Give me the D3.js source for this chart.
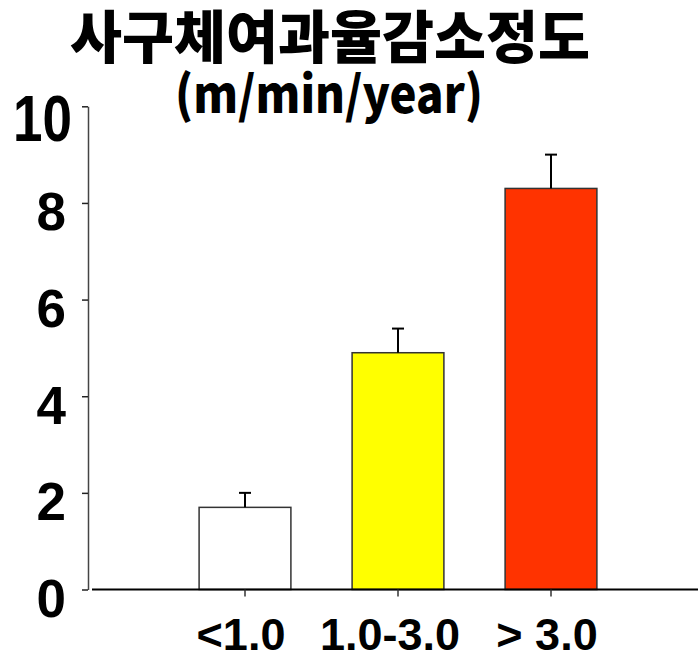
<!DOCTYPE html>
<html><head><meta charset="utf-8">
<script src="https://cdn.jsdelivr.net/npm/d3@7/dist/d3.min.js"></script>
<style>html,body{margin:0;padding:0;background:#fff;}</style>
</head><body>
<svg id="c" width="698" height="661"></svg>
<script>
const categories = ["<1.0", "1.0-3.0", "> 3.0"];
const values = [1.7, 4.9, 8.3];
const errorTops = [2.0, 5.4, 9.0];
const barColors = ["#FFFFFF", "#FFFF00", "#FF3300"];
const yTicks = [0, 2, 4, 6, 8, 10];
const titleLine1 = "사구체여과율감소정도";
const titleLine2 = "(m/min/year)";

const svg = d3.select("#c");
const plotLeft = 92, plotRight = 704, yAxisX = 88;
const yTop = 106.3, yBottom = 589.5;

const y = d3.scaleLinear().domain([0, 10]).range([yBottom, yTop]);
const step = (plotRight - plotLeft) / (categories.length + 1);
const x = d3.scaleBand().domain(categories)
  .range([plotLeft + step / 2, plotRight - step / 2])
  .paddingInner(0.4).paddingOuter(0.2);

// y axis
const yAxis = svg.append("g").attr("transform", `translate(${yAxisX},0)`)
  .call(d3.axisLeft(y).tickValues(yTicks).tickSize(6).tickSizeOuter(0).tickFormat(d3.format("d")));
yAxis.select(".domain").attr("stroke", "#444").attr("stroke-width", 1.5);
yAxis.selectAll(".tick line").attr("stroke", "#222").attr("stroke-width", 1.5);
yAxis.selectAll(".tick text")
  .attr("font-family", "'Liberation Sans', Arial, sans-serif")
  .attr("font-weight", "bold").attr("font-size", 53).attr("fill", "#000")
  .attr("text-anchor", "end").attr("x", -22).attr("dy", null).attr("y", 27)
  .each(function(d) {
    if (d === 10) {
      d3.select(this).attr("x", 0).attr("y", 0)
        .attr("transform", "translate(-16,34) scale(1,1.24)");
    }
  });

// bars
svg.append("g").selectAll("rect").data(values).join("rect")
  .attr("x", (d, i) => x(categories[i]))
  .attr("width", x.bandwidth())
  .attr("y", d => y(d))
  .attr("height", d => y(0) - y(d))
  .attr("fill", (d, i) => barColors[i])
  .attr("stroke", "#333").attr("stroke-width", 1.5);

// error bars
const eb = svg.append("g").attr("stroke", "#000").attr("stroke-width", 2);
eb.selectAll("line.v").data(values).join("line").attr("class", "v")
  .attr("x1", (d, i) => x(categories[i]) + x.bandwidth() / 2)
  .attr("x2", (d, i) => x(categories[i]) + x.bandwidth() / 2)
  .attr("y1", d => y(d)).attr("y2", (d, i) => y(errorTops[i]));
eb.selectAll("line.h").data(errorTops).join("line").attr("class", "h")
  .attr("x1", (d, i) => x(categories[i]) + x.bandwidth() / 2 - 6)
  .attr("x2", (d, i) => x(categories[i]) + x.bandwidth() / 2 + 6)
  .attr("y1", d => y(d)).attr("y2", d => y(d));

// x axis
const xAxis = svg.append("g").attr("transform", `translate(0,${y(0)})`)
  .call(d3.axisBottom(x).tickSize(7).tickSizeOuter(0));
xAxis.select(".domain").attr("d", `M${plotLeft},0H${plotRight}`)
  .attr("stroke", "#000").attr("stroke-width", 2);
xAxis.selectAll(".tick line").attr("stroke", "#333").attr("stroke-width", 1.5);
xAxis.selectAll(".tick text")
  .attr("font-family", "'Liberation Sans', Arial, sans-serif")
  .attr("font-weight", "bold").attr("font-size", 45).attr("fill", "#000")
  .attr("dy", null).attr("y", 60).attr("dx", (d, i) => i === 1 ? -8 : -4);

// titles
svg.append("text").text(titleLine1)
  .attr("x", 70).attr("y", 58)
  .attr("textLength", 520).attr("lengthAdjust", "spacingAndGlyphs")
  .attr("font-family", "'Noto Sans CJK KR', sans-serif")
  .attr("font-weight", 900).attr("font-size", 57).attr("fill", "#000");
svg.append("text").text(titleLine2)
  .attr("transform", "translate(175,113) scale(1,1.15)")
  .attr("x", 0).attr("y", 0)
  .attr("textLength", 308).attr("lengthAdjust", "spacingAndGlyphs")
  .attr("font-family", "'Noto Sans CJK KR', sans-serif")
  .attr("font-weight", 900).attr("font-size", 44).attr("fill", "#000");
</script>
</body></html>
